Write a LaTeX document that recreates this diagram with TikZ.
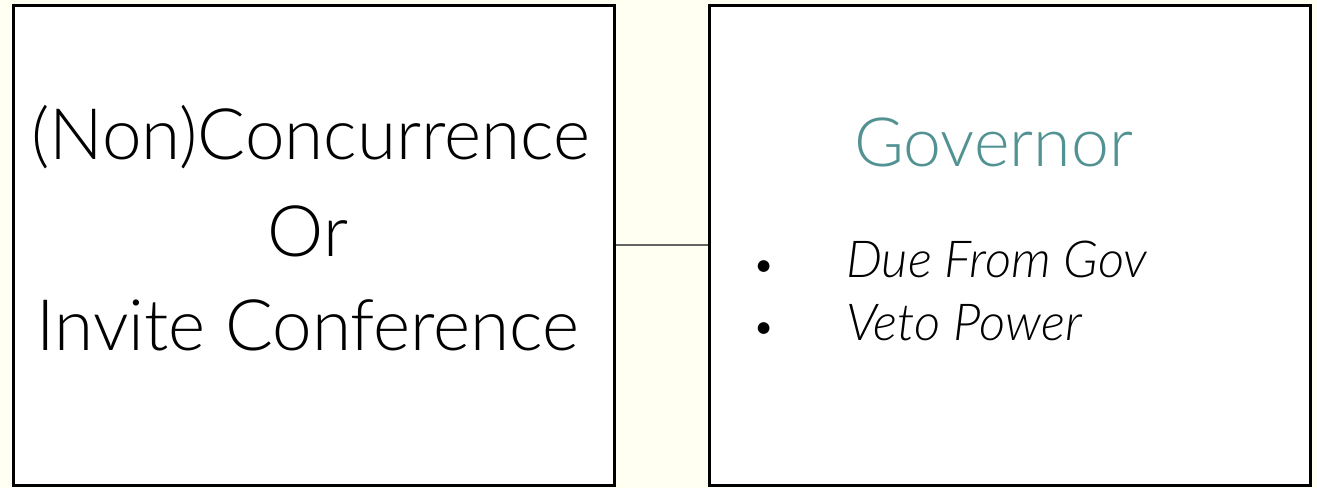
\documentclass[tikz,border=0pt]{standalone}
\usepackage{fontspec}
\newfontfamily\lightfont{Lato Light}
\definecolor{bgcream}{RGB}{255,255,242}
\definecolor{govteal}{RGB}{82,146,146}
\definecolor{linkgray}{RGB}{100,100,100}
\tikzset{
  panel/.style={draw=black, line width=3pt, fill=white, inner sep=0pt, minimum width=601pt, minimum height=480pt},
  bigtext/.style={anchor=base, inner sep=0pt, font=\lightfont\fontsize{71}{71}\selectfont, text=black},
  govtext/.style={anchor=base west, inner sep=0pt, font=\lightfont\fontsize{68}{68}\selectfont, text=govteal},
  itemtext/.style={anchor=base west, inner sep=0pt, font=\lightfont\itshape\fontsize{51}{51}\selectfont, text=black},
  bullettext/.style={anchor=base, inner sep=0pt, font=\lightfont\fontsize{40}{40}\selectfont, text=black},
  link/.style={draw=linkgray, line width=2.5pt}
}
\begin{document}
\begin{tikzpicture}[x=1pt,y=-1pt]
\useasboundingbox (0,0) rectangle (1317,488);
\fill[bgcream] (0,0) rectangle (1317,488);
\node[panel] (left) at (313.5,245) {};
\node[panel] (right) at (1009.5,245) {};
\draw[link] (left.east) -- (right.west);
\node[bigtext] (l1) at (311,159) {(Non)Concurrence};
\node[bigtext] (l2) at (308,256) {Or};
\node[bigtext] (l3) at (308,350) {Invite Conference};
\node[govtext] (gov) at (854,166) {Governor};
\node[bullettext] (b1) at (764,278) {•};
\node[bullettext] (b2) at (764,340) {•};
\node[itemtext] (i1) at (846,277) {Due From Gov};
\node[itemtext] (i2) at (846,340) {Veto Power};
\end{tikzpicture}
\end{document}
